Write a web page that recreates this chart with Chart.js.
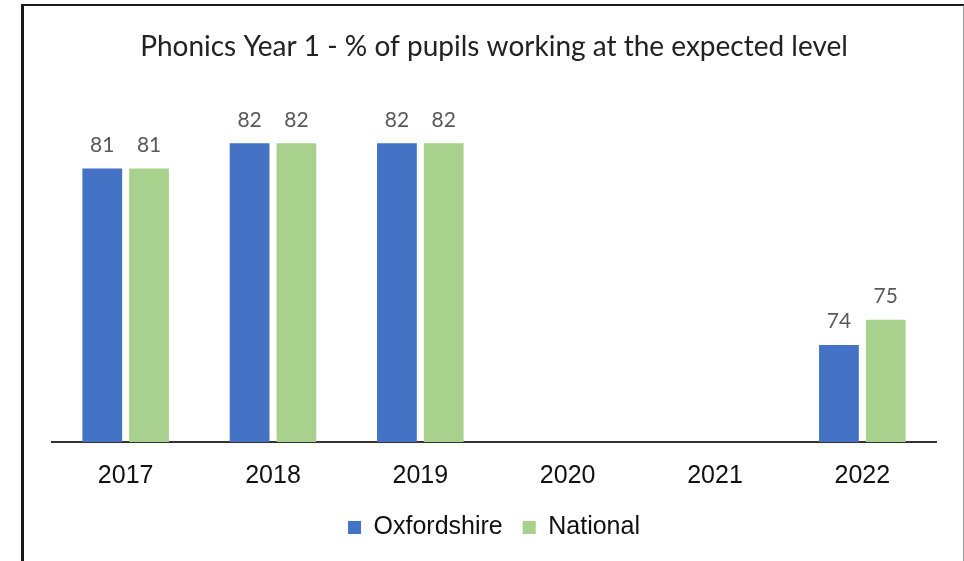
<!DOCTYPE html>
<html><head><meta charset="utf-8">
<script src="https://cdn.jsdelivr.net/npm/chart.js@4/dist/chart.umd.min.js"></script>
<style>
html,body{margin:0;padding:0;background:#fff;}
#wrap{position:absolute;left:0;top:0;width:964px;height:561px;}
#frame{position:absolute;left:21px;top:4px;width:939px;height:560px;border-left:3px solid #1a1a1a;border-top:2px solid #1a1a1a;border-right:2px solid #9a9a9a;pointer-events:none;}
</style></head>
<body>
<div id="wrap"><canvas id="c" width="964" height="561"></canvas></div>
<div id="frame"></div>
<script>
const years = ['2017','2018','2019','2020','2021','2022'];
const oxfordshire = [81, 82, 82, null, null, 74];
const national = [81, 82, 82, null, null, 75];
const titleText = 'Phonics Year 1 - % of pupils working at the expected level';

const valueLabels = {
  id: 'valueLabels',
  afterDatasetsDraw(chart) {
    const ctx = chart.ctx;
    ctx.save();
    ctx.font = '21px Lato';
    ctx.fillStyle = '#595959';
    ctx.textAlign = 'center';
    ctx.textBaseline = 'bottom';
    chart.data.datasets.forEach((ds, i) => {
      const meta = chart.getDatasetMeta(i);
      meta.data.forEach((el, j) => {
        const v = ds.data[j];
        if (v === null || v === undefined) return;
        ctx.fillText(String(v), el.x, el.y - 13);
      });
    });
    ctx.restore();
  }
};

new Chart(document.getElementById('c'), {
  type: 'bar',
  data: {
    labels: years,
    datasets: [
      {label: 'Oxfordshire', data: oxfordshire, backgroundColor: '#4472C4', categoryPercentage: 0.635, barPercentage: 0.85},
      {label: 'National', data: national, backgroundColor: '#A9D18E', categoryPercentage: 0.635, barPercentage: 0.85}
    ]
  },
  options: {
    responsive: false,
    animation: false,
    layout: {padding: {left: 52, right: 28, top: 10, bottom: 11}},
    plugins: {
      title: {display: true, text: titleText, color: '#222', font: {family: 'Lato', size: 28, weight: 'normal'}, padding: {top: 20, bottom: 16}},
      legend: {position: 'bottom', labels: {boxWidth: 13, boxHeight: 13, color: '#111', font: {family: 'Liberation Sans', size: 25}, padding: 20}},
      tooltip: {enabled: false}
    },
    scales: {
      x: {
        grid: {display: false},
        border: {display: true, color: '#333', width: 2},
        ticks: {color: '#111', font: {family: 'Liberation Sans', size: 25}, padding: 11},
        afterFit(scale) { scale.height -= 7; }
      },
      y: {display: false, min: 70.15, max: 84.53}
    }
  },
  plugins: [valueLabels]
});
</script>
</body></html>
